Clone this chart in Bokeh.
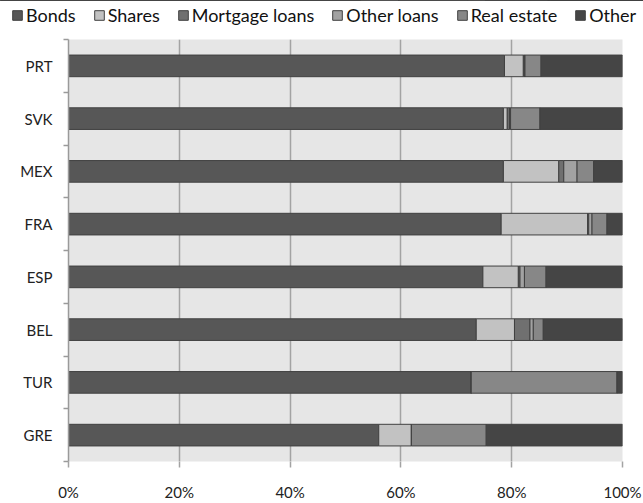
import numpy as np
from bokeh.plotting import figure
from bokeh.layouts import column
from bokeh.models import FixedTicker, Legend, LegendItem, ColumnDataSource
from bokeh.embed import file_html
from bokeh.resources import INLINE

countries = ["GRE", "TUR", "BEL", "ESP", "FRA", "MEX", "SVK", "PRT"]
series = ["Bonds", "Shares", "Mortgage loans", "Other loans", "Real estate", "Other"]
bonds =       [56.0, 72.7, 73.6, 74.8, 78.1, 78.5, 78.5, 78.7]
shares =      [5.9,  0.0,  6.9,  6.4,  15.6, 10.0, 0.7,  3.4]
mortgage =    [0.0,  0.0,  2.8,  0.3,  0.2,  0.9,  0.4,  0.3]
other_loans = [0.0,  0.0,  0.6,  0.8,  0.6,  2.4,  0.2,  0.0]
real_estate = [13.5, 26.3, 1.8,  3.9,  2.7,  3.0,  5.3,  2.9]
other =       [24.6, 1.0,  14.3, 13.8, 2.8,  5.2,  14.9, 14.7]
x_ticks = [0, 20, 40, 60, 80, 100]
x_labels = ["0%", "20%", "40%", "60%", "80%", "100%"]

colors = ["#575757", "#c2c2c2", "#707070", "#a2a2a2", "#878787", "#454545"]
FONT = "Lato"
EDGE = "#404040"

ypos = list(np.arange(len(countries)) + 0.5)
src = ColumnDataSource(dict(y=ypos, Bonds=bonds, Shares=shares,
                            **{"Mortgage loans": mortgage, "Other loans": other_loans,
                               "Real estate": real_estate, "Other": other}))

# ---- legend strip (its own small figure above the chart; bars lie outside its view) ----
lf = figure(width=643, height=30, x_range=(0, 100), y_range=(-20, -19),
            output_backend="svg", toolbar_location=None,
            x_axis_location=None, y_axis_location=None,
            min_border_left=0, min_border_right=0, min_border_top=0, min_border_bottom=0)
lf.frame_align = False
lf.outline_line_color = None
lf.grid.visible = False
lf.background_fill_color = "white"
lf.border_fill_color = "white"
lrs = lf.hbar_stack(series, y="y", height=0.41, source=src, color=colors,
                    line_color=EDGE, line_width=1)
legend = Legend(items=[LegendItem(label=s, renderers=[r]) for s, r in zip(series, lrs)],
                orientation="horizontal", location=(11, 4),
                label_text_font=FONT, label_text_font_size="18px", label_text_color="#111111",
                glyph_width=12, glyph_height=12, label_standoff=3, spacing=17,
                padding=0, margin=0, border_line_color=None, background_fill_alpha=0,
                label_height=18)
lf.add_layout(legend, "center")

# ---- main chart ----
p = figure(width=643, height=473, x_range=(0, 100), y_range=(0, len(countries)),
           output_backend="svg", toolbar_location=None,
           min_border_left=68, min_border_right=21, min_border_top=9, min_border_bottom=36)
p.frame_align = False
p.background_fill_color = "#e6e6e6"
p.border_fill_color = "white"
p.outline_line_color = None

rs = p.hbar_stack(series, y="y", height=0.41, source=src, color=colors,
                  line_color=EDGE, line_width=1)

p.ygrid.grid_line_color = None
p.xgrid.ticker = FixedTicker(ticks=x_ticks)
p.xgrid.grid_line_color = "#a3a3a3"
p.xgrid.grid_line_width = 1.5

p.xaxis.ticker = FixedTicker(ticks=x_ticks)
p.xaxis.major_label_overrides = {t: l for t, l in zip(x_ticks, x_labels)}
p.xaxis.axis_line_color = None
p.xaxis.major_tick_line_color = "#a3a3a3"
p.xaxis.major_tick_line_width = 1.5
p.xaxis.major_tick_out = 6
p.xaxis.major_tick_in = 0
p.xaxis.minor_tick_line_color = None
p.xaxis.major_label_standoff = 15
p.xaxis.major_label_text_font = FONT
p.xaxis.major_label_text_font_size = "15px"
p.xaxis.major_label_text_color = "#222222"

p.yaxis.ticker = FixedTicker(ticks=ypos, minor_ticks=list(range(len(countries) + 1)))
p.yaxis.major_label_overrides = {float(y): c for y, c in zip(ypos, countries)}
p.yaxis.axis_line_color = "#9a9a9a"
p.yaxis.axis_line_width = 1.5
p.yaxis.major_tick_line_color = None
p.yaxis.major_tick_out = 0
p.yaxis.minor_tick_line_color = "#9a9a9a"
p.yaxis.minor_tick_line_width = 1.5
p.yaxis.minor_tick_out = 5
p.yaxis.minor_tick_in = 0
p.yaxis.major_label_standoff = 11
p.yaxis.major_label_text_font = FONT
p.yaxis.major_label_text_font_size = "15px"
p.yaxis.major_label_text_color = "#222222"

layout = column(lf, p, spacing=0)
open("out.html", "w").write(file_html(layout, INLINE))
